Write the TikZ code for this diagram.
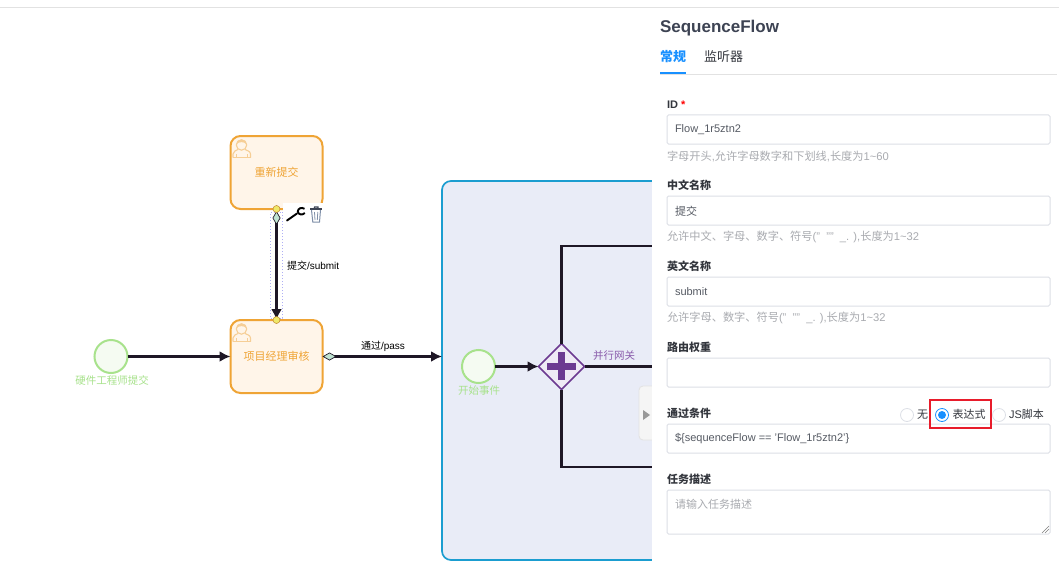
\documentclass[tikz,border=0pt]{standalone}
\usepackage{fontspec}
\setmainfont{Liberation Sans}
\newfontfamily\cjk{Noto Sans CJK SC}
\newcommand\zh[1]{{\cjk #1}}
\usetikzlibrary{shapes.geometric,arrows.meta}
\definecolor{taskline}{HTML}{EFA435}
\definecolor{taskfill}{HTML}{FFF5E9}
\definecolor{taskicon}{HTML}{F6CE96}
\definecolor{startline}{HTML}{A8E28C}
\definecolor{startfill}{HTML}{F5FBF2}
\definecolor{poolline}{HTML}{1B9DD0}
\definecolor{poolfill}{HTML}{E9ECF7}
\definecolor{flow}{HTML}{1E1726}
\definecolor{gwline}{HTML}{6C3A91}
\definecolor{gwfill}{HTML}{EFEAF5}
\definecolor{gwtext}{HTML}{8A5CAB}
\definecolor{tipfill}{HTML}{BFE3D2}
\definecolor{yellowdot}{HTML}{EFE86A}
\definecolor{selblue}{HTML}{AFAFF5}
\definecolor{hairline}{HTML}{E2E2E2}
\definecolor{boxline}{HTML}{DCDFE6}
\definecolor{titlec}{HTML}{3D4353}
\definecolor{bodyc}{HTML}{555A63}
\definecolor{headc}{HTML}{33363D}
\definecolor{hintc}{HTML}{A9ABB0}
\definecolor{tabblue}{HTML}{1890FF}
\definecolor{redbox}{HTML}{E81C2B}
\definecolor{tabfill}{HTML}{F5F5F5}
\definecolor{binc}{HTML}{7F8FA8}
\tikzset{
  x=1pt,y=-1pt,
  every node/.style={inner sep=0pt,outer sep=0pt},
  task/.style={draw=taskline,fill=taskfill,line width=2pt,rounded corners=10pt,
    minimum width=92pt,minimum height=73pt,text=taskline,font=\cjk\fontsize{11}{13}\selectfont},
  startev/.style={circle,draw=startline,fill=startfill,line width=2pt,minimum size=33pt},
  startlab/.style={text=startline,font=\cjk\fontsize{10.5}{12}\selectfont},
  flowline/.style={draw=flow,line width=2.2pt},
  head/.style={-{Latex[length=11pt,width=11pt]}},
  dtail/.style={{Diamond[length=14pt,width=8pt,fill=tipfill,color=flow,line width=.7pt]}-{Latex[length=11pt,width=11pt]}},
  flowlab/.style={text=black,font=\fontsize{10}{12}\selectfont},
  dot/.style={circle,draw=taskline!80!black,fill=yellowdot,line width=.5pt,minimum size=7pt},
  inbox/.style={draw=boxline,fill=white,line width=1pt,rounded corners=1.5pt,minimum width=383pt,anchor=north west},
  head label/.style={anchor=west,text=headc,font=\cjk\bfseries\fontsize{11}{13}\selectfont},
  value/.style={anchor=west,text=bodyc,font=\fontsize{11}{13}\selectfont},
  hinttext/.style={anchor=west,text=hintc,font=\fontsize{11.2}{13}\selectfont},
  radiooff/.style={circle,draw=boxline,fill=white,line width=.8pt,minimum size=13pt},
  radioon/.style={circle,draw=tabblue,fill=white,line width=.8pt,minimum size=13pt},
  person/.pic={
    \draw[taskicon,line width=1.1pt,fill=taskfill] (11,9) circle (5.2);
    \fill[taskicon] (6,8) .. controls (6,2) and (16,2) .. (16,8) .. controls (13,5.5) and (9,5.5) .. (6,8) -- cycle;
    \draw[taskicon,line width=1.1pt] (2.5,21.5) -- (2.5,18) .. controls (2.5,15) and (6,14.5) .. (7.5,13.5);
    \draw[taskicon,line width=1.1pt] (20,21.5) -- (20,18) .. controls (20,15) and (16,14.5) .. (14.5,13.5);
    \draw[taskicon,line width=1.1pt] (2.5,21.5) -- (20,21.5);
    \draw[taskicon,line width=.9pt] (6,21.5) -- (6,17.5) (16.5,21.5) -- (16.5,17.5);
  }
}
\begin{document}
\begin{tikzpicture}
\useasboundingbox (0,0) rectangle (1059,567);
\fill[white] (0,0) rectangle (1059,567);
\coordinate (topa) at (0,7.5);
\coordinate (topb) at (1059,7.5);
\draw[hairline,line width=1pt] (topa) -- (topb);

% pool
\node[draw=poolline,fill=poolfill,line width=1.7pt,rounded corners=9pt,minimum width=300pt,minimum height=379pt,anchor=north west] (pool) at (442,181) {};

% tasks
\node[task] (resubmit) at (276.5,172.5) {重新提交};
\node[task] (review) at (276.5,356.5) {项目经理审核};
\pic at (resubmit.north west) {person};
\pic at (review.north west) {person};

% hardware start
\node[startev] (hw) at (111,356.5) {};
\node[startlab] (hwlab) at (112,380) {硬件工程师提交};
\draw[flowline,head] (hw) -- (review);

% selection
\node[draw=selblue,dotted,line width=1pt,minimum width=12pt,minimum height=106pt] (sel) at (276.5,265) {};
\draw[flowline,dtail,line width=3pt,shorten <=2pt] (resubmit.south) -- (review.north);
\node[flowlab,anchor=west] (sublab) at (287,266) {\zh{提交}/submit};
\node[dot] (d1) at (276.5,209) {};
\node[dot] (d2) at (276.5,320) {};

% context pad
\node[fill=white,minimum width=42pt,minimum height=22pt,anchor=north west] (pad) at (283,203) {};
\draw[black,line width=1.9pt,line cap=round] (287,220.5) -- (297,213.5);
\draw[black,line width=1.9pt] (304.5,208.8) .. controls (301.5,206.8) and (297.8,208.5) .. (297.8,211.5) .. controls (298,214.8) and (302.5,215.5) .. (304.8,213);
\draw[titlec,line width=1.1pt] (310,209) -- (322,209);
\draw[titlec,line width=1.1pt] (314,209) -- (314.5,207) -- (318,207) -- (318,209);
\draw[binc,line width=1pt] (311.5,210) -- (312.8,222) -- (319.5,222) -- (320.5,210);
\draw[binc,line width=.8pt] (314.5,212) -- (315,220) (317.8,212) -- (317.3,220);

% pass flow
\draw[flowline,dtail] (review.east) -- (review.east -| pool.west);
\node[flowlab] (passlab) at (383,346) {\zh{通过}/pass};

% inner process
\node[startev] (st2) at (478.5,366.5) {};
\node[startlab] (st2lab) at (479,391) {开始事件};
\node[diamond,draw=gwline,fill=gwfill,line width=1.6pt,minimum width=46pt,minimum height=46pt,aspect=1] (gw) at (561.5,366.5) {};
\fill[gwline] (558,352) rectangle (565,380);
\fill[gwline] (547,362.5) rectangle (576,369.5);
\draw[flowline,head] (st2) -- (gw);
\coordinate (endtop) at (660,246);
\coordinate (endmid) at (660,366.5);
\coordinate (endbot) at (660,467);
\draw[flowline] (gw.north) |- (endtop);
\draw[flowline] (gw.east) -- (endmid);
\draw[flowline] (gw.south) |- (endbot);
\node[text=gwtext,font=\cjk\fontsize{10.5}{12}\selectfont] (gwlab) at (614,356) {并行网关};

% properties panel
\node[fill=white,minimum width=407pt,minimum height=559pt,anchor=north west] (panel) at (652,8) {};
\node[draw=hairline,fill=tabfill,line width=.8pt,rounded corners=4pt,minimum width=20pt,minimum height=54pt,anchor=north west] (tabbg) at (639,386) {};
\fill[white] (652,384) rectangle (662,442);
\fill[black!40] (643,410) -- (650,415) -- (643,420) -- cycle;

\node[anchor=west,text=titlec,font=\bfseries\fontsize{17}{20}\selectfont] (title) at (660,28.5) {SequenceFlow};
\node[anchor=west,text=tabblue,font=\cjk\bfseries\fontsize{13}{15}\selectfont] (tab1) at (660,57) {常规};
\node[anchor=west,text=headc,font=\cjk\fontsize{13}{15}\selectfont] (tab2) at (704,57) {监听器};
\coordinate (ra) at (660,74.5);
\coordinate (rb) at (1057,74.5);
\coordinate (ua) at (660,73.5);
\coordinate (ub) at (686,73.5);
\draw[hairline,line width=.9pt] (ra) -- (rb);
\draw[tabblue,line width=2pt] (ua) -- (ub);

\node[head label] (l1) at (667,104.5) {\fontspec{Liberation Sans}\bfseries ID \textcolor{red}{*}};
\node[inbox,minimum height=29pt] (in1) at (667,115) {};
\node[value] (v1) at (675,130) {Flow\_1r5ztn2};
\node[hinttext] (h1) at (667,156) {\zh{字母开头},\zh{允许字母数字和下划线},\zh{长度为}1\textasciitilde 60};

\node[head label] (l2) at (667,185) {中文名称};
\node[inbox,minimum height=29pt] (in2) at (667,196) {};
\node[value] (v2) at (675,211) {\zh{提交}};
\node[hinttext] (h2) at (667,237) {\zh{允许中文、字母、数字、符号}("\ \ ""\ \ \_. ),\zh{长度为}1\textasciitilde 32};

\node[head label] (l3) at (667,266) {英文名称};
\node[inbox,minimum height=29pt] (in3) at (667,277) {};
\node[value] (v3) at (675,292) {submit};
\node[hinttext] (h3) at (667,318) {\zh{允许字母、数字、符号}("\ \ ""\ \ \_. ),\zh{长度为}1\textasciitilde 32};

\node[head label] (l4) at (667,347) {路由权重};
\node[inbox,minimum height=29pt] (in4) at (667,358) {};

\node[head label] (l5) at (667,413) {通过条件};
\node[radiooff] (r1) at (907,415) {};
\node[value,text=headc] (r1t) at (917,414.5) {\zh{无}};
\node[radioon] (r2) at (942,415) {};
\node[circle,fill=tabblue,minimum size=8pt] (r2d) at (r2) {};
\node[value,text=headc] (r2t) at (952.5,414.5) {\zh{表达式}};
\node[radiooff] (r3) at (999,415) {};
\node[value,text=headc] (r3t) at (1009,414.5) {JS\zh{脚本}};
\node[inbox,minimum height=29pt] (in5) at (667,424) {};
\node[value] (v5) at (675,439) {\$\{sequenceFlow == 'Flow\_1r5ztn2'\}};
\node[draw=redbox,line width=1.4pt,minimum width=61pt,minimum height=28pt,anchor=north west] (red) at (930,400) {};

\node[head label] (l6) at (667,479) {任务描述};
\node[inbox,minimum height=44pt] (in6) at (667,490) {};
\node[hinttext,font=\cjk\fontsize{11}{13}\selectfont] (ph) at (675,504) {请输入任务描述};
\draw[black!50,line width=.5pt] (1042,533) -- (1049,526) (1045,533) -- (1049,529);
\end{tikzpicture}
\end{document}
